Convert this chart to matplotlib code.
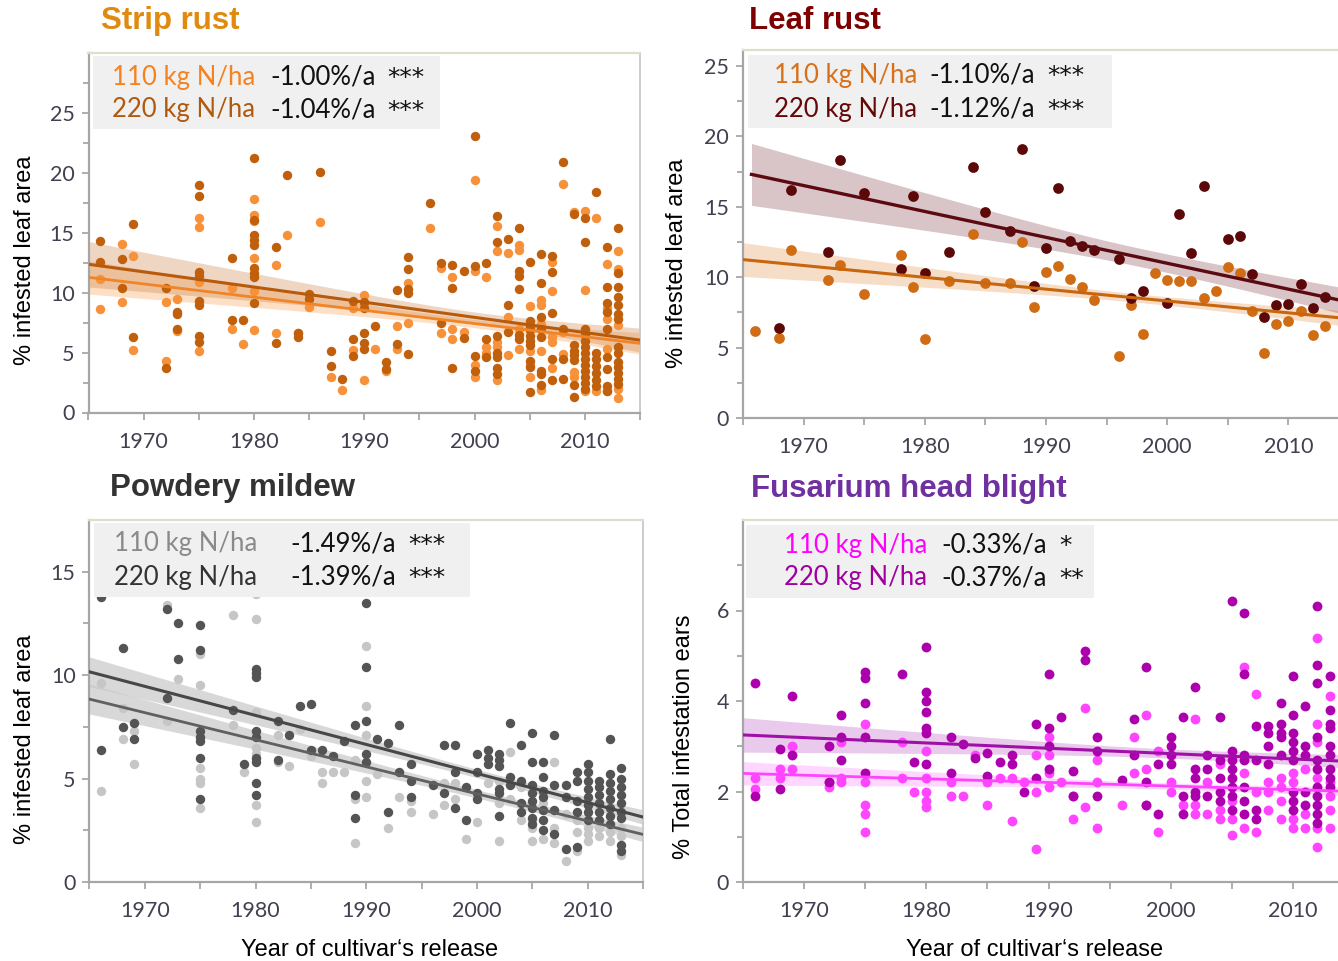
import matplotlib
matplotlib.use("Agg")
import matplotlib.pyplot as plt
import numpy as np

# ------------------------------------------------------------------ data
# Strip rust (% infested leaf area)
sr_years_220 = [1966, 1968, 1969, 1972, 1973, 1975, 1978, 1979, 1980, 1982, 1983, 1984, 1985, 1986,
                1987, 1988, 1989, 1990, 1991, 1992, 1993, 1994, 1996, 1997, 1998, 1999, 2000, 2001,
                2002, 2003, 2004, 2005, 2006, 2007, 2008, 2009, 2010, 2011, 2012, 2013]
sr_vals_220 = [[14.3, 12.6], [12.8, 10.4], [15.7, 6.3], [10.4, 3.7], [8.4, 8.2, 7.0],
               [19.0, 18.1, 11.7, 11.4, 9.3, 9.0, 6.4, 5.9], [12.9, 7.7], [7.7],
               [21.2, 16.1, 14.8, 14.4, 14.0, 12.1, 11.6, 11.3, 9.1], [13.8, 5.8], [19.8], [6.6, 6.3],
               [9.9, 9.5], [20.1], [5.1, 3.9], [2.8], [9.3, 6.1, 4.7], [9.2, 8.7, 6.6, 5.8, 5.3], [7.2],
               [4.2, 3.6], [10.2, 5.7], [13.0, 12.0, 10.3, 10.0, 4.9], [17.5], [12.5, 7.5],
               [12.3, 10.4, 3.7], [11.8, 6.2], [23.1, 12.2, 4.7, 3.5], [12.5, 6.1, 4.6],
               [16.4, 14.2, 6.4, 5.0, 4.6, 3.7, 3.2], [14.5, 9.0, 6.7], [15.4, 11.8, 11.4, 10.3, 6.5, 6.1],
               [12.6, 7.6, 7.2, 6.9, 6.4, 6.0, 5.6, 4.3, 3.8, 1.7], [13.2, 10.8, 8.0, 7.0, 6.3, 3.5, 3.2, 2.3],
               [13.1, 11.7, 8.3, 4.5, 2.7], [20.9, 7.0, 4.5, 2.8], [16.6, 5.6, 5.1, 4.8, 4.4, 2.3, 1.3],
               [16.2, 14.2, 7.0, 6.5, 6.0, 5.5, 5.0, 4.5, 4.0, 3.5, 3.0, 2.5, 2.0],
               [18.4, 5.0, 4.5, 3.9, 3.3, 2.7, 2.2], [13.8, 10.5, 9.1, 8.4, 7.0, 4.6, 3.6, 2.2, 1.8],
               [15.4, 11.6, 10.5, 9.6, 9.0, 8.2, 7.8, 5.5, 5.0, 4.2, 3.8, 3.3, 2.8, 2.4]]
sr_years_110 = sr_years_220
sr_vals_110 = [[11.1, 8.6], [14.1, 9.2], [13.1, 5.2], [9.2, 4.3], [9.5, 6.8], [16.2, 15.5, 10.9, 5.1],
               [10.4, 7.0], [5.7], [17.8, 16.5, 16.0, 12.9, 10.1, 6.9], [12.3, 6.6], [14.8], [6.6], [8.8],
               [15.9], [3.0], [1.9], [8.7, 5.2], [9.8, 9.1, 2.7], [5.3], [3.5], [7.2, 5.3], [10.8, 7.5],
               [15.4], [12.1, 6.6], [11.3, 7.0, 6.1], [6.7], [19.4, 11.8, 4.0, 3.0], [11.3, 5.5, 5.0],
               [15.6, 13.5, 5.9, 5.5, 2.7], [13.3, 8.0, 4.8], [14.0, 13.6, 7.0, 5.3], [8.9, 5.1, 4.0, 3.0],
               [9.4, 9.0, 7.4, 5.1, 1.9], [12.6, 10.1, 6.3, 5.9, 3.7], [19.1, 6.7, 4.9], [16.7, 3.4, 3.0],
               [16.8, 10.2, 1.8], [16.2, 1.8], [12.4, 8.7, 7.8, 5.3, 1.8], [13.5, 12.0, 7.3, 2.0, 1.2]]

# Leaf rust (% infested leaf area)
lr_years_220 = [1968, 1969, 1972, 1973, 1975, 1978, 1979, 1980, 1982, 1984, 1985, 1987, 1988, 1989,
                1990, 1991, 1992, 1993, 1994, 1996, 1997, 1998, 2000, 2001, 2002, 2003, 2005, 2006,
                2007, 2008, 2009, 2010, 2011, 2012, 2013]
lr_vals_220 = [6.4, 16.2, 11.8, 18.3, 16.0, 10.6, 15.8, 10.3, 11.8, 17.8, 14.6, 13.3, 19.1, 9.4,
               12.1, 16.3, 12.6, 12.2, 11.9, 11.3, 8.5, 9.0, 8.2, 14.5, 11.7, 16.5, 12.7, 12.9,
               10.2, 7.2, 8.0, 8.1, 9.5, 7.8, 8.6]
lr_years_110 = [1966, 1968, 1969, 1972, 1973, 1975, 1978, 1979, 1980, 1982, 1984, 1985, 1987, 1988,
                1989, 1990, 1991, 1992, 1993, 1994, 1996, 1997, 1998, 1999, 2000, 2001, 2002, 2003,
                2004, 2005, 2006, 2007, 2008, 2009, 2010, 2011, 2012, 2013]
lr_vals_110 = [6.2, 5.7, 11.9, 9.8, 10.9, 8.8, 11.6, 9.3, 5.6, 9.7, 13.1, 9.6, 9.6, 12.5,
               7.9, 10.4, 10.8, 9.9, 9.3, 8.4, 4.4, 8.0, 6.0, 10.3, 9.8, 9.7, 9.7, 8.5,
               9.0, 10.7, 10.3, 7.6, 4.6, 6.7, 6.9, 7.6, 5.9, 6.5]

# Powdery mildew (% infested leaf area)
pm_years = [1966, 1968, 1969, 1972, 1973, 1975, 1978, 1979, 1980, 1982, 1983, 1984, 1985, 1986, 1987,
            1988, 1989, 1990, 1991, 1992, 1993, 1994, 1996, 1997, 1998, 1999, 2000, 2001, 2002, 2003,
            2004, 2005, 2006, 2007, 2008, 2009, 2010, 2011, 2012, 2013]
pm_vals_220 = [[13.8, 6.4], [11.3, 7.5], [7.7, 6.9], [13.2, 8.9], [12.5, 10.8],
               [12.4, 11.2, 7.3, 7.0, 6.8, 6.0, 4.0], [8.3], [5.7],
               [10.3, 10.1, 9.9, 7.3, 7.0, 6.0, 5.8, 4.8, 4.2], [7.8, 5.9], [7.1], [8.5], [8.6, 6.4],
               [6.4], [6.1], [6.8], [7.6, 4.2, 3.1], [13.5, 10.4, 7.8, 6.2, 5.8], [6.9], [6.7, 3.4],
               [7.6, 5.3], [5.7, 4.9, 4.1], [4.7], [6.6, 4.3], [6.6, 5.3, 3.6], [4.6, 3.0],
               [6.2, 5.3, 4.3, 4.0], [6.4, 6.0, 5.7], [6.2, 5.9, 5.6, 4.5, 4.3, 3.2], [7.7, 5.1, 4.7],
               [6.6, 4.9, 3.8, 3.4], [7.2, 5.8, 4.7, 4.3, 3.9, 3.6, 3.1, 2.8],
               [5.8, 5.1, 4.4, 4.1, 3.5, 3.0, 2.5], [7.1, 4.7, 3.5, 2.3], [4.7, 4.1, 1.6],
               [5.3, 4.9, 3.9, 3.4, 1.7], [5.7, 5.3, 4.9, 4.5, 4.1, 3.7, 3.4, 3.0],
               [4.9, 4.6, 4.2, 3.8, 3.4, 3.0], [6.9, 5.2, 4.8, 4.4, 4.0, 3.6, 3.2, 2.8],
               [5.5, 5.0, 4.6, 4.2, 3.8, 3.4, 3.1, 1.8, 1.5]]
pm_vals_110 = [[9.6, 4.4], [8.4, 6.9], [7.3, 5.7], [13.4, 7.8], [9.8], [11.0, 9.5, 5.5, 5.0, 4.8, 3.6],
               [12.9, 7.6], [5.3], [13.9, 12.7, 8.2, 6.5, 6.2, 3.7, 2.9], [7.1, 5.8], [5.6], [7.4],
               [6.1], [5.3, 4.8], [5.3], [5.3], [5.9, 4.0, 1.9], [11.4, 8.5, 7.1, 4.9, 4.1], [5.2],
               [2.6], [4.1], [3.9, 3.4], [3.3], [4.8, 3.7], [4.8, 4.0], [2.1], [2.9], [4.8],
               [4.9, 3.8, 2.0], [6.3, 4.0], [4.6, 3.0], [3.0, 2.6, 2.0], [3.8, 2.1], [5.8, 2.6, 1.9],
               [3.3, 1.0], [3.0, 2.4, 1.5], [2.6, 2.3, 2.0], [2.6, 2.2], [2.4, 2.0], [2.6, 2.2, 1.3]]

# Fusarium head blight (% total infestation ears)
fh_years = [1966, 1968, 1969, 1972, 1973, 1975, 1978, 1979, 1980, 1982, 1983, 1984, 1985, 1986, 1987,
            1988, 1989, 1990, 1991, 1992, 1993, 1994, 1996, 1997, 1998, 1999, 2000, 2001, 2002, 2003,
            2004, 2005, 2006, 2007, 2008, 2009, 2010, 2011, 2012, 2013]
fh_vals_220 = [[4.4, 1.9], [2.95, 2.05], [4.1, 2.8], [3.0, 2.2], [3.7, 3.2, 2.7], [4.65, 4.5, 3.95, 3.2, 2.4],
               [4.6], [2.65], [5.2, 4.2, 4.0, 3.75, 3.4, 3.3, 2.6], [3.2, 2.4], [3.05], [2.75],
               [2.85, 2.35], [2.65], [2.8, 2.6], [2.0], [3.5, 2.3], [4.6, 3.4, 3.0, 2.5], [3.65],
               [2.45, 1.9], [5.1, 4.9], [3.2, 2.9, 1.9], [2.25], [3.6, 2.8], [4.75, 2.2, 1.7], [2.6, 1.5],
               [3.2, 3.0, 2.8, 2.6], [3.65, 1.9, 1.5], [4.3, 2.5, 2.3, 2.0, 1.9], [2.8, 2.5, 1.9],
               [3.65, 2.7, 2.3, 2.0, 1.8], [6.2, 2.9, 2.7, 2.5, 2.3, 2.1, 1.9, 1.6],
               [5.95, 4.6, 2.8, 2.7, 2.1, 1.8, 1.5], [3.45, 2.7, 1.6, 1.4], [3.45, 3.3, 3.0, 2.6],
               [3.95, 3.5, 3.3, 3.2, 2.8], [4.55, 3.7, 3.3, 3.1, 2.9, 2.7, 2.0, 1.8, 1.6],
               [3.9, 3.0, 2.8, 2.0, 1.7], [6.1, 4.8, 4.4, 3.2, 2.7, 2.5, 2.1, 1.9, 1.7, 1.5, 1.3],
               [4.55, 3.8, 3.5, 3.4, 3.0, 2.8, 2.5, 2.3, 2.1]]
fh_vals_110 = [[2.3, 2.05], [2.5, 2.3], [3.0, 2.5], [2.2, 2.1], [3.1, 2.3, 2.2], [3.5, 2.2, 1.7, 1.5, 1.1],
               [3.1, 2.3], [2.0], [2.9, 2.3, 2.0, 1.8, 1.65], [2.2, 1.9], [1.9], [2.8], [2.2, 1.7],
               [2.3], [2.3, 1.35], [2.2], [2.8, 2.0, 0.73], [3.2, 2.8, 2.4, 2.1], [2.2], [1.9, 1.4],
               [3.85, 1.65], [2.7, 2.2, 1.2], [1.7], [3.2, 2.4], [3.7, 2.5, 1.7], [2.9, 1.1], [2.2, 2.0],
               [1.7], [3.6, 1.7, 1.5], [2.2, 1.5], [2.6, 1.6, 1.4], [1.8, 1.4, 1.03], [4.75, 2.4, 1.2],
               [4.15, 2.0, 1.1], [2.2, 2.0, 1.6], [2.3, 2.1, 1.8, 1.4], [2.4, 2.2, 1.4, 1.2],
               [2.5, 1.5, 1.2], [5.4, 3.5, 3.1, 2.3, 1.2, 0.77], [4.1, 2.2, 1.9, 1.6, 1.2]]

# Fitted regression lines: value at fit start / end (110, 220)
sr_fit_x = [1965, 2015]
sr_fit_110 = [11.28, 5.77]
sr_fit_220 = [12.37, 6.04]
lr_fit_x_110 = [1965, 2015]
lr_fit_x_220 = [1965.7, 2015]
lr_fit_110 = [11.25, 7.05]
lr_fit_220 = [17.3, 8.23]
pm_fit_x = [1965, 2015]
pm_fit_110 = [8.84, 2.30]
pm_fit_220 = [10.16, 3.14]
fh_fit_x = [1965, 2015]
fh_fit_110 = [2.40, 2.00]
fh_fit_220 = [3.25, 2.66]
# confidence band half widths: (start, narrowest, end, x of narrowest)
sr_band_110 = [1.4, 0.35, 0.9, 2000]
sr_band_220 = [1.9, 0.45, 1.0, 2000]
lr_band_110 = [1.2, 0.3, 0.55, 1998]
lr_band_220 = [2.2, 0.65, 0.95, 1998]
pm_band_110 = [0.72, 0.2, 0.35, 2002]
pm_band_220 = [0.72, 0.2, 0.35, 2002]
fh_band_110 = [0.26, 0.07, 0.1, 2000]
fh_band_220 = [0.38, 0.1, 0.15, 2000]

titles = ["Strip rust", "Leaf rust", "Powdery mildew", "Fusarium head blight"]
rates_110 = ["-1.00%/a", "-1.10%/a", "-1.49%/a", "-0.33%/a"]
rates_220 = ["-1.04%/a", "-1.12%/a", "-1.39%/a", "-0.37%/a"]
signif_110 = ["***", "***", "***", "*"]
signif_220 = ["***", "***", "***", "**"]

# ------------------------------------------------------------------ figure
W, H = 1338, 961
fig = plt.figure(figsize=(W / 100, H / 100), dpi=100)
fig.patch.set_facecolor("white")

TICKFONT = "Lato"
LEGFONT = "Lato"
ARIAL = "Liberation Sans"


def ax_px(left, top, right, bottom):
    return fig.add_axes([left / W, 1 - bottom / H, (right - left) / W, (bottom - top) / H])


def ftext(x, y, s, **kw):
    return fig.text(x / W, 1 - y / H, s, **kw)


def flatten(years, vals):
    xs, ys = [], []
    for yr, v in zip(years, vals):
        if isinstance(v, (list, tuple)):
            for vv in v:
                xs.append(yr)
                ys.append(vv)
        else:
            xs.append(yr)
            ys.append(v)
    return np.array(xs, float), np.array(ys, float)


def fit_band(ax, fx, fy, band, band_color, band_alpha):
    xs = np.linspace(fx[0], fx[1], 300)
    yl = fy[0] + (fy[1] - fy[0]) * (xs - fx[0]) / (fx[1] - fx[0])
    hl, hc, hr, xc = band
    kl = np.sqrt(max(hl ** 2 - hc ** 2, 0)) / (xc - fx[0])
    kr = np.sqrt(max(hr ** 2 - hc ** 2, 0)) / (fx[1] - xc)
    k = np.where(xs < xc, kl, kr)
    hw = np.sqrt(hc ** 2 + (k * (xs - xc)) ** 2)
    ax.fill_between(xs, yl - hw, yl + hw, color=band_color, alpha=band_alpha, lw=0, zorder=1)


def style_axes(ax, ylim, major_y, minor_y):
    ax.set_xlim(1965, 2015)
    ax.set_ylim(*ylim)
    ax.set_xticks([1970, 1980, 1990, 2000, 2010])
    ax.set_xticks([1965, 1975, 1985, 1995, 2005, 2015], minor=True)
    ax.set_yticks(major_y)
    ax.set_yticks(minor_y, minor=True)
    for s in ["left", "bottom"]:
        ax.spines[s].set_color("#a6a6a6")
        ax.spines[s].set_linewidth(1.6)
    ax.spines["top"].set_color("#e0ddcc")
    ax.spines["top"].set_linewidth(1.6)
    ax.spines["right"].set_color("#c8c8c8")
    ax.spines["right"].set_linewidth(1.3)
    ax.tick_params(axis="both", which="both", direction="out", color="#a0a0a0", width=1.2)
    ax.tick_params(axis="x", which="major", length=5, pad=9)
    ax.tick_params(axis="x", which="minor", length=5)
    ax.tick_params(axis="y", which="major", length=5, pad=5)
    ax.tick_params(axis="y", which="minor", length=4)
    for lab in ax.get_xticklabels() + ax.get_yticklabels():
        lab.set_fontfamily(TICKFONT)
        lab.set_fontsize(15.5)
        lab.set_color("#404050")
    ax.set_facecolor("white")


def legend_box(x0, y0, x1, y1, rows, xs):
    fig.patches.append(plt.Rectangle((x0 / W, 1 - y1 / H), (x1 - x0) / W, (y1 - y0) / H,
                                     transform=fig.transFigure, facecolor="#f0f0f0",
                                     edgecolor="none", zorder=5))
    for (yrow, lab, col, rate, sig) in rows:
        ftext(xs[0], yrow, lab, color=col, fontsize=18.5, family=LEGFONT, va="center", ha="left", zorder=6)
        ftext(xs[1], yrow, rate, color="#111111", fontsize=18.5, family=LEGFONT, va="center", ha="left", zorder=6)
        ftext(xs[2], yrow + 1, sig, color="#111111", fontsize=18, family="DejaVu Sans", va="center",
              ha="left", zorder=6)


# ---------------- Panel 1: Strip rust
c110, c220 = "#f7923a", "#c0600c"
ax1 = ax_px(88.5, 53, 640, 412.5)
fit_band(ax1, sr_fit_x, sr_fit_110, sr_band_110, "#f9a55a", 0.35)
fit_band(ax1, sr_fit_x, sr_fit_220, sr_band_220, "#c87a3a", 0.3)
x, y = flatten(sr_years_110, sr_vals_110)
ax1.scatter(x, y, s=46, color=c110, lw=0, zorder=2)
x, y = flatten(sr_years_220, sr_vals_220)
ax1.scatter(x, y, s=46, color=c220, lw=0, zorder=2)
ax1.plot(sr_fit_x, sr_fit_110, color="#f08528", lw=2.0, zorder=3)
ax1.plot(sr_fit_x, sr_fit_220, color="#b85a0c", lw=2.2, zorder=3)
style_axes(ax1, (0, 30), [0, 5, 10, 15, 20, 25], [2.5, 7.5, 12.5, 17.5, 22.5, 27.5])
legend_box(93, 56, 440, 129,
           [(77, "110 kg N/ha", "#f58220", rates_110[0], signif_110[0]),
            (110, "220 kg N/ha", "#b05a10", rates_220[0], signif_220[0])],
           (112, 270, 387))
ftext(101, 21, titles[0], color="#e08a10", fontsize=22.5, fontweight="bold", family=ARIAL, va="center", ha="left")
ftext(25, 260, "% infested leaf area", rotation=90, fontsize=17, family=ARIAL, va="center", ha="center")

# ---------------- Panel 2: Leaf rust
c110, c220 = "#cf6c14", "#5c0808"
ax2 = ax_px(743, 50.5, 743 + 606, 418)
fit_band(ax2, lr_fit_x_110, lr_fit_110, lr_band_110, "#e8a060", 0.35)
fit_band(ax2, lr_fit_x_220, lr_fit_220, lr_band_220, "#8a4a55", 0.32)
x, y = flatten(lr_years_110, lr_vals_110)
ax2.scatter(x, y, s=60, color=c110, lw=0, zorder=2)
x, y = flatten(lr_years_220, lr_vals_220)
ax2.scatter(x, y, s=60, color=c220, lw=0, zorder=2)
ax2.plot(lr_fit_x_110, lr_fit_110, color="#c8660e", lw=2.2, zorder=3)
ax2.plot(lr_fit_x_220, lr_fit_220, color="#5a0a10", lw=2.4, zorder=3)
style_axes(ax2, (0, 26.1), [0, 5, 10, 15, 20, 25], [2.5, 7.5, 12.5, 17.5, 22.5])
legend_box(748, 55, 1112, 128,
           [(75, "110 kg N/ha", "#d8701a", rates_110[1], signif_110[1]),
            (109, "220 kg N/ha", "#660808", rates_220[1], signif_220[1])],
           (773.5, 929.5, 1047.5))
ftext(749, 21, titles[1], color="#7f0000", fontsize=22.5, fontweight="bold", family=ARIAL, va="center", ha="left")
ftext(677, 263, "% infested leaf area", rotation=90, fontsize=17, family=ARIAL, va="center", ha="center")

# ---------------- Panel 3: Powdery mildew
c110, c220 = "#c6c6c6", "#545454"
ax3 = ax_px(89.5, 520, 643, 882)
x, y = flatten(pm_years, pm_vals_110)
ax3.scatter(x, y, s=46, color=c110, lw=0, zorder=2)
x, y = flatten(pm_years, pm_vals_220)
ax3.scatter(x, y, s=46, color=c220, lw=0, zorder=2)
fit_band(ax3, pm_fit_x, pm_fit_110, pm_band_110, "#c8c8c8", 0.7)
fit_band(ax3, pm_fit_x, pm_fit_220, pm_band_220, "#c8c8c8", 0.7)
ax3.plot(pm_fit_x, pm_fit_110, color="#606060", lw=2.0, zorder=3)
ax3.plot(pm_fit_x, pm_fit_220, color="#474747", lw=2.2, zorder=3)
style_axes(ax3, (0, 17.5), [0, 5, 10, 15], [2.5, 7.5, 12.5])
legend_box(94, 523, 470, 597,
           [(544, "110 kg N/ha", "#8a8a8a", rates_110[2], signif_110[2]),
            (577, "220 kg N/ha", "#333333", rates_220[2], signif_220[2])],
           (114.5, 290.5, 408))
ftext(110, 488, titles[2], color="#333333", fontsize=22.5, fontweight="bold", family=ARIAL, va="center", ha="left")
ftext(25, 739, "% infested leaf area", rotation=90, fontsize=17, family=ARIAL, va="center", ha="center")
ftext(369.5, 950, "Year of cultivar\u2018s release", fontsize=17, family=ARIAL, va="center", ha="center")

# ---------------- Panel 4: Fusarium head blight
c110, c220 = "#ff45ff", "#ad00ad"
ax4 = ax_px(743, 520, 743 + 611, 882)
fit_band(ax4, fh_fit_x, fh_fit_110, fh_band_110, "#ff99ff", 0.4)
fit_band(ax4, fh_fit_x, fh_fit_220, fh_band_220, "#c878d0", 0.4)
x, y = flatten(fh_years, fh_vals_110)
ax4.scatter(x, y, s=50, color=c110, lw=0, zorder=2)
x, y = flatten(fh_years, fh_vals_220)
ax4.scatter(x, y, s=50, color=c220, lw=0, zorder=2)
ax4.plot(fh_fit_x, fh_fit_110, color="#ff44ff", lw=2.0, zorder=3)
ax4.plot(fh_fit_x, fh_fit_220, color="#a010a8", lw=2.2, zorder=3)
style_axes(ax4, (0, 8.0), [0, 2, 4, 6], [1, 3, 5, 7])
legend_box(746, 525, 1094, 598,
           [(545, "110 kg N/ha", "#ff00ff", rates_110[3], signif_110[3]),
            (578, "220 kg N/ha", "#a000a0", rates_220[3], signif_220[3])],
           (784, 941.5, 1059))
ftext(751, 489, titles[3], color="#7030a0", fontsize=22.5, fontweight="bold", family=ARIAL, va="center", ha="left")
ftext(684, 737, "% Total infestation ears", rotation=90, fontsize=17, family=ARIAL, va="center", ha="center")
ftext(1034.5, 950, "Year of cultivar\u2018s release", fontsize=17, family=ARIAL, va="center", ha="center")

fig.savefig("out.png", dpi=100)
